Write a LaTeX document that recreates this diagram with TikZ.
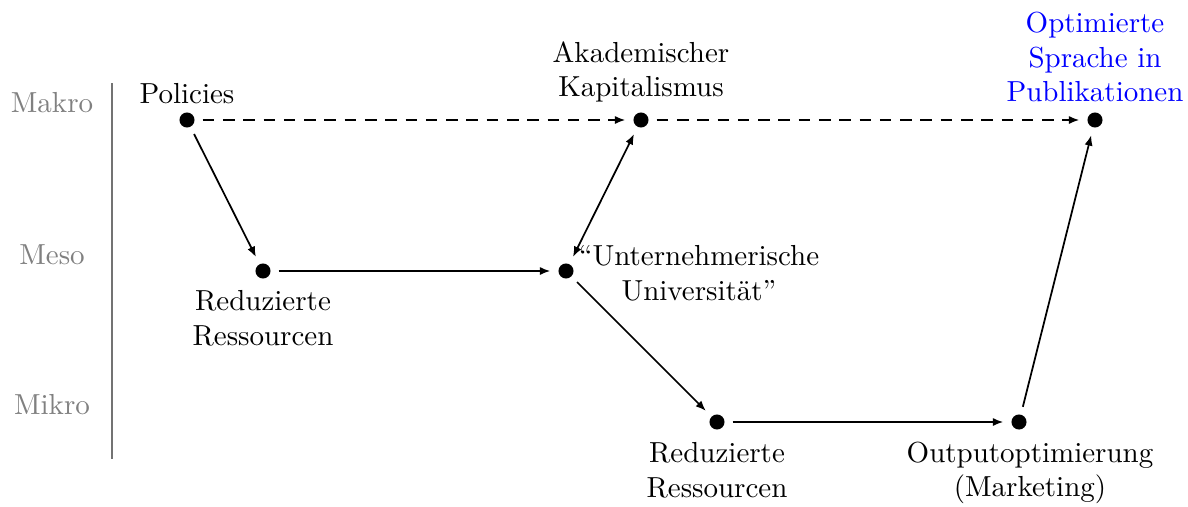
\documentclass[tikz,border=0pt]{standalone}
\usetikzlibrary{arrows.meta}
\begin{document}
\begin{tikzpicture}[x=0.345pt,y=-0.345pt,
  dot/.style={circle,fill=black,inner sep=0pt,minimum size=5.2pt,outer sep=2.8pt},
  lbl/.style={align=center,inner sep=0pt},
  lvl/.style={text=black!50,inner sep=0pt},
  conn/.style={-{Latex[length=3.6pt,width=2.8pt]},semithick},
  bconn/.style={{Latex[length=3.6pt,width=2.8pt]}-{Latex[length=3.6pt,width=2.8pt]},semithick},
  dconn/.style={conn,dashed,dash pattern=on 4pt off 3pt}]
\useasboundingbox (0,0) rectangle (1188,506);
% levels
\node[lvl] (makro) at (52,103) {Makro};
\node[lvl] (meso) at (52,255) {Meso};
\node[lvl] (mikro) at (52,405) {Mikro};
\coordinate (vtop) at (112,83);
\coordinate (vbot) at (112,459);
\draw[black!55,semithick] (vtop) -- (vbot);
% dots
\node[dot] (pol) at (187,120) {};
\node[dot] (akk) at (641,120) {};
\node[dot] (opt) at (1095,120) {};
\node[dot] (red1) at (263,271) {};
\node[dot] (unu) at (566,271) {};
\node[dot] (red2) at (717,422) {};
\node[dot] (out) at (1019,422) {};
% labels
\node[lbl] (polL) at (187,94) {Policies};
\node[lbl] (akkL) at (641,72) {Akademischer\\Kapitalismus};
\node[lbl,text=blue] (optL) at (1095,57) {Optimierte\\Sprache in\\Publikationen};
\node[lbl] (red1L) at (263,318) {Reduzierte\\Ressourcen};
\node[lbl] (unuL) at (699,273) {``Unternehmerische\\Universit\"at''};
\node[lbl] (red2L) at (717,470) {Reduzierte\\Ressourcen};
\node[lbl] (outL) at (1030,473) {Outputoptimierung\\(Marketing)};
% connectors
\draw[dconn] (pol) -- (akk);
\draw[dconn] (akk) -- (opt);
\draw[conn] (pol) -- (red1);
\draw[conn] (red1) -- (unu);
\draw[bconn] (akk) -- (unu);
\draw[conn] (unu) -- (red2);
\draw[conn] (red2) -- (out);
\draw[conn] (out) -- (opt);
\end{tikzpicture}
\end{document}
